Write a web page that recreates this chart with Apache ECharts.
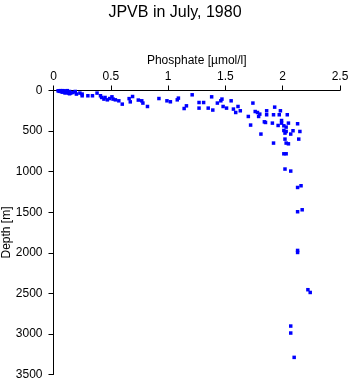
<!DOCTYPE html>
<html>
<head>
<meta charset="utf-8">
<script src="https://cdn.jsdelivr.net/npm/echarts@6/dist/echarts.min.js"></script>
<style>html,body{margin:0;padding:0;background:#fff}#c{width:350px;height:384px}</style>
</head>
<body>
<div id="c"></div>
<script>
const titleText = "JPVB in July, 1980";
const xName = "Phosphate [\u00b5mol/l]";
const yName = "Depth [m]";
const phosphate = [0.04,0.06,0.08,0.10,0.12,0.14,0.15,0.07,0.11,0.09,0.13,0.05,0.08,0.12,0.10,0.14,0.17,0.19,0.20,0.23,0.25,0.25,0.30,0.34,0.38,0.41,0.42,0.44,0.45,0.47,0.49,0.51,0.52,0.54,0.57,0.60,0.66,0.67,0.69,0.74,0.77,0.78,0.82,0.92,0.99,1.02,1.08,1.09,1.14,1.16,1.21,1.27,1.31,1.27,1.38,1.35,1.43,1.39,1.46,1.47,1.48,1.51,1.55,1.57,1.59,1.61,1.63,1.70,1.74,1.76,1.78,1.80,1.79,1.72,1.81,1.84,1.93,1.98,1.86,1.86,1.92,1.97,2.04,1.85,1.91,1.96,1.99,1.99,2.01,2.05,2.13,2.03,2.01,2.03,2.09,2.15,2.02,2.07,2.02,2.14,1.92,2.03,2.05,2.01,2.03,2.02,2.07,2.16,2.13,2.13,2.17,2.13,2.13,2.22,2.24,2.07,2.07,2.10];
const depth = [4,2,2,5,2,12,32,16,25,8,32,10,20,15,30,40,25,12,44,32,65,44,65,65,32,65,86,106,86,115,99,78,106,115,127,168,100,140,74,118,127,155,197,99,127,139,115,94,222,189,53,148,148,217,78,217,155,241,127,106,197,217,127,229,271,197,250,320,155,259,271,291,320,426,537,386,205,250,250,299,299,299,299,394,402,431,370,402,435,402,410,451,493,505,496,505,525,537,599,599,648,648,657,780,780,968,993,1174,1195,1494,1470,1971,1996,2455,2489,2903,2989,3289];
const xMin = 0, xMax = 2.5, xStep = 0.5;
const yMin = 0, yMax = 3500, yStep = 500;

const pts = phosphate.map((p, i) => [p, depth[i]]);
const font = "Liberation Sans, Arial, sans-serif";
const chart = echarts.init(document.getElementById('c'));
chart.setOption({
  animation: false,
  backgroundColor: '#fff',
  title: {text: titleText, left: 'center', top: 0,
    textStyle: {fontFamily: font, fontSize: 16, fontWeight: 'normal', color: '#000'}},
  grid: {left: 53.5, top: 90.5, right: 10, bottom: 9.5, containLabel: false, outerBoundsMode: 'none'},
  xAxis: {
    type: 'value', position: 'top', min: xMin, max: xMax, interval: xStep,
    name: xName, nameLocation: 'middle', nameGap: 24, nameMoveOverlap: false,
    nameTextStyle: {fontFamily: font, fontSize: 12, color: '#000'},
    axisLine: {lineStyle: {color: '#000', width: 1}},
    axisTick: {length: 5, lineStyle: {color: '#000'}},
    axisLabel: {fontFamily: font, fontSize: 12, color: '#000', margin: 8},
    splitLine: {show: false}
  },
  yAxis: {
    type: 'value', inverse: true, min: yMin, max: yMax, interval: yStep,
    name: yName, nameLocation: 'middle', nameGap: 41, nameMoveOverlap: false,
    nameTextStyle: {fontFamily: font, fontSize: 12, color: '#000'},
    axisLine: {lineStyle: {color: '#000', width: 1}},
    axisTick: {length: 5, lineStyle: {color: '#000'}},
    axisLabel: {fontFamily: font, fontSize: 12, color: '#000', margin: 11, formatter: v => String(v)},
    splitLine: {show: false}
  },
  series: [{
    type: 'scatter', data: pts, symbol: 'rect', symbolSize: 3.5,
    itemStyle: {color: '#0000ff', opacity: 1}
  }]
});
</script>
</body>
</html>
